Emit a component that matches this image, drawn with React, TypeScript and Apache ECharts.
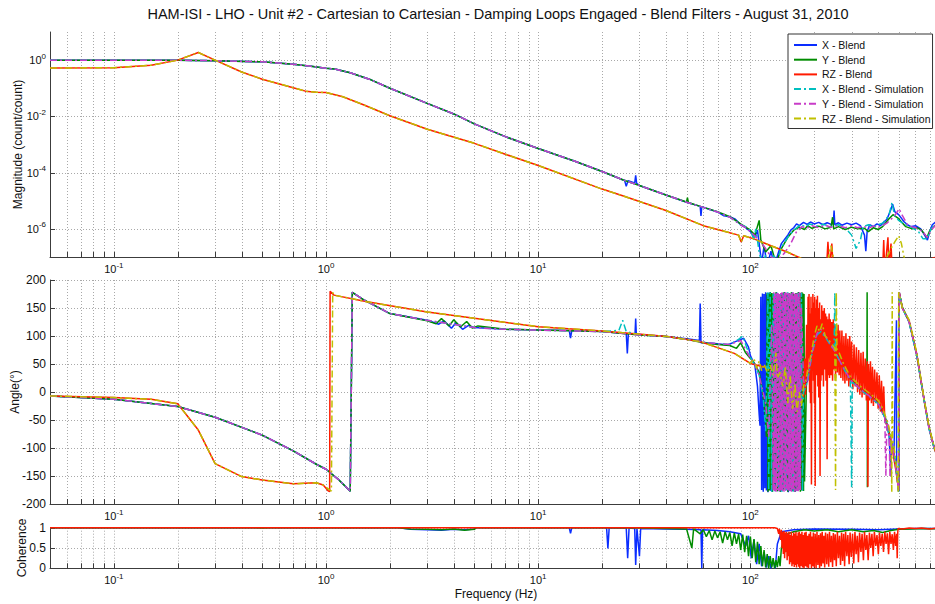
import React, { useEffect, useRef } from "react";
import * as echarts from "echarts";

const FONT = "'Liberation Sans', Arial, Helvetica, sans-serif";
const TITLE =
  "HAM-ISI - LHO - Unit #2 - Cartesian to Cartesian - Damping Loops Engaged - Blend Filters - August 31, 2010";
const FMIN = 0.05;
const FMAX = 800;

const seriesNames = [
  "X - Blend",
  "Y - Blend",
  "RZ - Blend",
  "X - Blend - Simulation",
  "Y - Blend - Simulation",
  "RZ - Blend - Simulation",
];
const seriesColors = ["#0a2dff", "#008c00", "#ff1a00", "#00bfbf", "#c83cc8", "#c0c000"];

// grid / tick positions
const xGridFreqs = [
  0.06, 0.07, 0.08, 0.09, 0.1, 0.2, 0.3, 0.4, 0.5, 0.6, 0.7, 0.8, 0.9, 1, 2, 3, 4, 5, 6, 7, 8, 9, 10, 20, 30,
  40, 50, 60, 70, 80, 90, 100, 200, 300, 400, 500, 600, 700,
];
const magGridValues = [1, 1e-2, 1e-4, 1e-6];
const phaseGridValues = [-150, -100, -50, 0, 50, 100, 150, 200];
const cohGridValues = [0.5, 1];

// ---------------- Magnitude ----------------
const xyMagBase = [
  [0.05, 1.0], [0.1, 1.0], [0.2, 0.99], [0.3, 0.955], [0.5, 0.87], [0.7, 0.72], [0.85, 0.6], [1.0, 0.51],
  [1.1, 0.48], [1.3, 0.355], [1.6, 0.21], [2, 0.1], [3, 0.029], [4, 0.0122], [5, 0.0054], [7, 0.0019],
  [10, 7.2e-4], [15, 2.5e-4], [20, 1.1e-4], [25, 5.6e-5], [30, 3.5e-5], [40, 1.6e-5], [50, 8.9e-6],
  [60, 5.8e-6], [70, 4.0e-6], [80, 2.6e-6], [90, 1.4e-6],
];
const xMagTail = [
  [25.5, 5.4e-5], [26, 3.3e-5], [26.5, 5.2e-5], [28.5, 4.3e-5], [28.8, 8e-5], [29.1, 4.2e-5], [30, 3.5e-5],
  [40, 1.6e-5], [50, 8.9e-6], [58, 6.3e-6], [58.5, 2.9e-6], [59, 6.1e-6], [70, 4.0e-6], [75, 2.9e-6], [80, 2.7e-6],
  [85, 2.2e-6], [90, 1.4e-6], [95, 1.1e-6], [100, 8e-7], [105, 5e-7], [108, 9e-7], [110, 3e-7], [113, 6e-8],
  [116, 2.5e-7], [120, 5e-8], [125, 1.6e-7], [130, 5e-8], [135, 1.3e-7], [140, 3e-7], [150, 6e-7], [155, 9e-7],
  [160, 1.1e-6], [165, 1.5e-6], [170, 1.3e-6], [178, 1.7e-6], [185, 1.45e-6], [192, 1.75e-6], [200, 1.5e-6],
  [210, 1.7e-6], [220, 1.4e-6], [230, 1.65e-6], [240, 1.45e-6], [246, 1.6e-6], [248, 4.5e-6], [250, 1.4e-6],
  [260, 1.65e-6], [270, 1.35e-6], [285, 1.6e-6], [300, 1.4e-6], [315, 1.6e-6], [330, 1.3e-6], [345, 6e-7],
  [350, 1.6e-7], [355, 8e-7], [365, 1.4e-6], [380, 1.2e-6], [395, 1.5e-6], [410, 1.3e-6], [425, 1.7e-6],
  [440, 2.2e-6], [460, 5e-6], [468, 7.6e-6], [480, 4e-6], [500, 3.2e-6], [530, 1.8e-6], [550, 1.4e-6],
  [570, 1.2e-6], [600, 1.3e-6], [635, 1.0e-6], [660, 6.3e-7], [683, 4e-7], [700, 8e-7], [720, 1.4e-6],
  [750, 1.8e-6], [780, 1.5e-6], [800, 2e-6],
];
const yMagTail = [
  [30, 3.5e-5], [40, 1.6e-5], [50, 9e-6], [50.5, 1.3e-5], [51, 8.7e-6], [60, 5.8e-6], [70, 4.1e-6], [80, 2.7e-6],
  [90, 1.5e-6], [100, 9e-7], [105, 6e-7], [110, 2e-6], [112, 4e-7], [118, 1.5e-7], [125, 2.5e-7], [132, 6e-8],
  [140, 2e-7], [150, 5e-7], [160, 9e-7], [170, 1.15e-6], [180, 9.5e-7], [186, 1.3e-6], [195, 1.05e-6],
  [210, 1.25e-6], [225, 1.0e-6], [240, 1.15e-6], [244, 2.6e-6], [247, 1.0e-6], [260, 1.2e-6], [280, 0.95e-6],
  [300, 1.15e-6], [320, 1.0e-6], [345, 1.05e-6], [360, 8e-7], [380, 1.1e-6], [400, 0.95e-6], [420, 1.2e-6],
  [450, 2.3e-6], [470, 3.2e-6], [500, 2.3e-6], [540, 1.2e-6], [580, 1.0e-6], [610, 1.1e-6], [640, 9e-7],
  [680, 5e-7], [700, 8.5e-7], [740, 1.3e-6], [770, 1.6e-6], [800, 1.4e-6],
];
const xSimMagTail = [
  [95, 1.2e-6], [100, 9e-7], [104, 4e-7], [106, 1.0e-6], [110, 1.5e-7], [114, 5e-8], [118, 1.2e-7], [122, 4e-8],
  [128, 1.1e-7], [135, 8e-8], [140, 2.2e-7], [150, 5e-7], [160, 9e-7], [172, 1.4e-6], [182, 1.2e-6],
  [190, 1.5e-6], [205, 1.25e-6], [220, 1.45e-6], [240, 1.2e-6], [260, 1.4e-6], [280, 1.1e-6], [300, 6e-7],
  [315, 2e-7], [330, 4e-7], [340, 1.2e-6], [360, 1.4e-6], [380, 1.15e-6], [400, 1.4e-6], [420, 1.6e-6],
  [450, 3e-6], [465, 8.7e-6], [478, 3e-6], [500, 2e-6], [530, 1.5e-6], [570, 1.2e-6], [620, 8e-7],
  [650, 4.5e-7], [680, 4.5e-7], [710, 1.0e-6], [750, 1.6e-6], [800, 1.8e-6],
];
const ySimMagTail = [
  [95, 1.1e-6], [100, 8e-7], [110, 4e-7], [118, 2.0e-7], [125, 1.0e-7], [135, 8e-8], [145, 1.4e-7],
  [155, 3e-7], [165, 8e-7], [175, 1.2e-6], [185, 1.05e-6], [195, 1.3e-6], [210, 1.1e-6], [225, 1.35e-6],
  [240, 1.15e-6], [260, 1.3e-6], [280, 1.1e-6], [300, 1.3e-6], [320, 1.1e-6], [340, 1.25e-6], [360, 1.05e-6],
  [380, 1.25e-6], [400, 1.15e-6], [420, 1.3e-6], [440, 1.6e-6], [480, 3e-6], [502, 5.2e-6], [520, 3e-6],
  [550, 1.4e-6], [575, 1.2e-6], [600, 1.1e-6], [650, 8e-7], [680, 5e-7], [710, 9e-7], [750, 1.4e-6],
  [800, 1.6e-6],
];
const rzMagBase = [
  [0.05, 0.52], [0.1, 0.54], [0.15, 0.66], [0.2, 1.0], [0.25, 1.86], [0.3, 1.0], [0.4, 0.38], [0.5, 0.21],
  [0.7, 0.105], [0.8, 0.079], [0.9, 0.072], [1.0, 0.071], [1.2, 0.05], [1.5, 0.026], [2, 0.0105], [3, 3.5e-3],
  [5, 1.1e-3], [7, 4.5e-4], [10, 1.8e-4], [20, 2.6e-5], [25, 1.5e-5], [40, 4.5e-6], [60, 1.3e-6], [73, 8.7e-7],
  [88, 6.0e-7], [90.5, 3.4e-7], [93, 5.7e-7], [104, 4.4e-7], [125, 2.5e-7], [149, 1.5e-7],
];
const rzMagTail = [
  [173, 9e-8], [200, 3e-8], [228, 3e-8], [232, 3.5e-7], [236, 4e-8], [242, 3e-7], [246, 3e-8], [420, 3e-8],
  [425, 4e-7], [430, 3e-8], [445, 5e-7], [450, 4e-8], [460, 3e-7], [466, 3e-8], [700, 4e-8], [720, 9e-8],
  [760, 1.0e-7], [800, 1.1e-7],
];
const rzSimMagTail = [
  [160, 1.2e-7], [173, 9e-8], [190, 5e-8], [200, 3e-8], [230, 3e-8], [235, 1.5e-7], [240, 2.5e-7],
  [245, 1.2e-7], [250, 3e-8], [420, 3e-8], [440, 1.0e-7], [460, 2e-7], [480, 3.5e-7], [500, 5.7e-7],
  [515, 3e-7], [530, 1e-7], [545, 3e-8], [800, 3e-8],
];

// ---------------- Phase ----------------
const xyPhaseBase = [
  [0.05, -7], [0.1, -13], [0.2, -26], [0.3, -45], [0.5, -77], [0.7, -105], [0.9, -129], [1.0, -138],
  [1.15, -157], [1.3, -177], [1.33, 178], [1.5, 165], [2, 140],
];
const xPhaseTail = [
  [3, 128], [3.4, 121], [3.6, 127], [3.9, 114], [4.1, 124], [4.4, 112], [4.7, 119], [5, 115], [7, 112],
  [10, 110.5], [14, 110], [14.2, 96], [14.4, 110], [20, 108], [26, 104], [26.3, 69], [26.6, 104], [28.6, 104],
  [28.8, 131], [29, 103], [40, 99], [50, 95], [57.5, 92], [58, 158], [58.5, 88], [70, 86], [78, 84], [85, 90],
  [93, 96], [98, 80], [100, 65], [105, 48], [108, 10], [110, -40], [111, -60],
  [112, 170], [113, -175], [114, 176], [115, -178], [116, 175], [117, -172], [118, 178], [119, -176],
  [120, 174], [121, -179], [122, 177], [123, -174], [124, 178], [125, -177], [126, 173], [127, -178],
  [129, 176], [131, -175], [133, 178], [135, -177], [137, 175], [139, -178], [141, 177], [143, -174],
  [145, 178], [147, -176], [149, 175], [151, -179], [153, 176], [155, -175], [157, 178], [159, -177],
  [161, 174], [163, -178], [165, 177], [167, -176], [169, 178], [171, -174], [173, 176],
  [175, -20], [180, 10], [186, 20], [195, 70], [206, 105], [215, 110], [230, 95], [248, 75], [270, 50],
  [296, 22], [330, 5], [358, -5], [400, -20], [430, -45], [450, -75], [460, -150], [462, -90], [475, -110],
  [488, 128], [489, -140], [500, -178], [503, 178], [520, 150], [560, 125], [609, 65], [656, -10],
  [695, -65], [735, -100], [800, -135],
];
const yPhaseTail = [
  [2.5, 133], [3, 127], [3.3, 122], [3.5, 131], [3.8, 118], [4.0, 129], [4.3, 116], [4.6, 126], [4.9, 114],
  [5.2, 118], [7, 112], [10, 110.5], [20, 108], [30, 102], [40, 99], [50, 94], [60, 88], [70, 85], [80, 83],
  [86, 78], [90, 88], [95, 70], [100, 60], [105, 50], [110, 35], [113, 10], [116, -20], [118, -50], [119, -80],
  [120, 177], [121, -178], [122, 175], [123, -176], [124, 178], [125, -174], [126, 177], [127, -178],
  [128, 176], [130, -175], [132, 178], [134, -177], [136, 175], [138, -178], [140, 177], [142, -176],
  [144, 178], [146, -175], [148, 176], [150, -178], [152, 177], [154, -174], [156, 178], [158, -177],
  [160, 175], [162, -178], [164, 177], [166, -176], [168, 178], [170, -175], [171, 176], [172, -178],
  [173, 177], [174, -176], [175, 178], [176, -175], [177, 176], [178, -177], [179, 175], [180, -160],
  [184, 30], [190, 40], [200, 85], [210, 110], [225, 100], [250, 78], [275, 48], [300, 22], [330, 6],
  [354, 0], [355, 178], [356, -170], [357, -2], [400, -18], [430, -42], [450, -70], [475, -108], [490, -148],
  [500, -177], [503, 177], [520, 152], [560, 126], [609, 66], [656, -9], [695, -63], [735, -99], [800, -136],
];
const xSimPhaseTail = [
  [3, 128], [5, 115], [7, 112], [10, 110.5], [20, 108], [24, 110], [25, 128], [26, 108], [30, 102], [40, 99],
  [50, 94], [60, 89], [70, 86], [80, 85], [88, 94], [92, 100], [96, 80], [100, 62], [105, 48], [110, 30],
  [115, -10], [118, -70], [121, 178], [122, -176], [124, 177], [126, -178], [128, 175], [130, -177],
  [132, 178], [135, -175], [138, 177], [141, -178], [144, 176], [147, -176], [150, 178], [153, -177],
  [156, 175], [159, -178], [162, 177], [165, -176], [168, 178], [171, -175], [174, 177], [176, -178],
  [178, 0], [186, 18], [195, 68], [206, 102], [215, 108], [230, 93], [248, 74], [250, 178], [252, 70],
  [270, 48], [296, 20], [300, -170], [302, 18], [330, 4], [358, -6], [400, -21], [430, -46], [450, -76],
  [475, -110], [490, -150], [500, -178], [503, 178], [520, 150], [560, 124], [609, 64], [656, -11],
  [695, -66], [735, -101], [800, -136],
];
const ySimPhaseTail = [
  [3, 128], [5, 115], [7, 112], [10, 110.5], [20, 108], [30, 102], [40, 99], [50, 94], [60, 89], [70, 86],
  [80, 85], [90, 92], [95, 76], [100, 60], [105, 50], [110, 30], [118, -20], [122, -80], [126, 120],
  [128, -176], [129, 178], [130, -177], [131, 176], [132, -178], [133, 177], [134, -175], [135, 178],
  [136, -177], [137, 175], [138, -178], [139, 177], [140, -176], [141, 178], [142, -177], [143, 175],
  [144, -178], [145, 177], [146, -176], [147, 178], [148, -175], [149, 176], [150, -178], [151, 177],
  [152, -176], [153, 178], [154, -177], [155, 175], [156, -178], [157, 177], [158, -176], [159, 178],
  [160, -175], [161, 176], [162, -178], [163, 177], [164, -176], [165, 178], [166, -177], [167, 175],
  [168, -178], [169, 177], [170, -176], [171, 178], [172, -175],
  [174, 150], [178, 20], [182, 10], [186, 25], [195, 70], [206, 105], [215, 112], [230, 95], [248, 75],
  [270, 48], [296, 22], [330, 5], [358, -5], [400, -20], [430, -45], [435, -150], [440, -50], [450, -65],
  [455, -151], [460, -80], [475, -110], [490, -150], [500, -178], [503, 178], [520, 150], [560, 125],
  [609, 65], [656, -10], [695, -65], [735, -100], [800, -135],
];
const rzPhaseBase = [
  [0.05, -7], [0.1, -10], [0.15, -13], [0.2, -21], [0.25, -68], [0.3, -128], [0.4, -151], [0.5, -157],
  [0.7, -164], [0.9, -162], [0.97, -166],
];
const rzPhaseTail = [
  [1.02, -176], [1.04, -178], [1.045, 180], [1.09, 173], [1.56, 161], [3, 143], [5, 131.6], [10, 116.7],
  [20, 109], [40.6, 99], [58, 90], [84, 69], [100, 51], [115, 45], [134, 39], [150, 21], [172, 4],
  [176, 30], [178, -10], [180, 60], [182, -5], [184, 120], [186, 30], [187, 170], [188, 60], [189, 175],
  [190, 0], [191, 140], [192, -20], [193, 170], [194, -165], [195, 150], [196, 40], [197, 175], [198, 20],
  [199, 160], [200, -20], [201, 170], [202, -168], [203, 150], [204, 40], [205, 165], [206, 30], [207, 172],
  [208, 10], [209, 150], [210, -10], [212, 160], [213, -150], [214, 130], [215, 20], [217, 155], [218, 30],
  [220, 145], [221, 10], [223, 150], [224, 40], [226, 140], [227, 20], [229, 135], [230, -120], [231, 130],
  [233, 30], [235, 140], [236, 25], [238, 130], [240, 30], [242, 125], [244, 20], [246, 130], [248, 40],
  [250, 120], [252, 25], [254, 115], [257, 35], [259, 120], [262, 30], [264, 110], [267, 25], [270, 110],
  [273, 20], [276, 100], [279, 15], [282, 105], [285, 20], [288, 95], [291, 10], [294, 100], [297, 15],
  [300, 90], [304, 5], [308, 85], [312, 10], [316, 80], [320, 0], [324, 75], [328, -5], [332, 70], [336, -10],
  [340, 72], [344, -5], [348, 60], [352, -15], [356, 55], [358, -169], [360, 50], [364, -15], [368, 55],
  [372, -20], [376, 45], [380, -25], [385, 40], [390, -20], [395, 35], [400, -30], [405, 30], [410, -35],
  [415, 20], [420, -40], [425, 10], [430, -50], [440, -60], [455, -80], [470, -110], [485, -140], [500, -175],
  [503, 178], [520, 150], [560, 127], [609, 67], [656, -10], [695, -64], [735, -100], [800, -138],
];
const rzSimPhaseTail = [
  [1.0, -170], [1.06, -177], [1.075, 178], [1.09, 173], [1.56, 161], [3, 143], [5, 131.6], [10, 116.7],
  [20, 109], [40.6, 99], [58, 90], [84, 69], [100, 51], [104, 60], [107, 42], [110, 55], [113, 38], [116, 50],
  [120, 35], [124, 48], [128, 30], [132, 70], [134, 25], [138, 35], [142, 10], [146, 45], [150, -20],
  [154, 30], [158, -30], [162, 15], [166, -35], [170, 0], [174, -25], [178, 10], [182, 20], [188, 45],
  [195, 75], [200, 100], [206, 118], [212, 108], [218, 122], [225, 100], [235, 92], [242, 85], [250, 78],
  [252, -175], [254, 178], [256, 75], [262, 70], [275, 50], [296, 27], [315, 18], [330, 10], [358, 0],
  [380, -8], [400, -15], [415, -25], [430, -40], [445, -55], [460, -80], [464, -178], [466, 178], [468, -85],
  [480, -110], [490, -140], [497, -178], [500, 178], [503, 175], [520, 150], [560, 129], [609, 69],
  [656, -8], [695, -62], [735, -98], [800, -140],
];

// ---------------- Coherence ----------------
const xCoh = [
  [0.05, 1], [2.2, 1], [2.5, 0.96], [3, 0.95], [3.5, 0.94], [4, 0.96], [4.5, 0.95], [5, 0.97], [5.1, 1],
  [14, 1], [14.2, 0.86], [14.4, 1], [21, 1], [21.3, 0.49], [21.6, 1], [26, 0.99], [26.4, 0.25], [26.8, 0.99],
  [28.5, 0.98], [28.8, 0.08], [29.2, 0.98], [30, 0.3], [30.4, 0.98], [40, 0.97], [50, 0.96], [58.5, 0.95],
  [59, 0.0], [59.5, 0.95], [70, 0.93], [80, 0.9], [90, 0.85], [95, 0.55], [98, 0.8], [101, 0.25], [104, 0.7],
  [107, 0.1], [110, 0.6], [113, 0.05], [116, 0.4], [119, 0.02], [122, 0.3], [125, 0.0], [128, 0.2], [131, 0.0],
  [134, 0.6], [140, 0.9], [160, 0.95], [200, 0.97], [300, 0.96], [400, 0.95], [500, 0.97], [600, 0.98],
  [800, 0.98],
];
const yCoh = [
  [0.05, 1], [0.45, 1], [0.5, 0.99], [0.55, 1], [2.2, 1], [2.5, 0.97], [3, 0.96], [3.5, 0.95], [4, 0.97],
  [4.5, 0.94], [5, 0.96], [5.1, 1], [20, 1], [30, 0.99], [40, 0.98], [50, 0.97], [53, 0.5], [54, 0.97],
  [58, 0.85], [60, 0.95], [62, 0.78], [64, 0.93], [66, 0.7], [68, 0.92], [70, 0.75], [72, 0.9], [74, 0.62],
  [76, 0.9], [78, 0.7], [80, 0.88], [82, 0.55], [84, 0.87], [86, 0.6], [88, 0.85], [90, 0.45], [92, 0.83],
  [94, 0.4], [96, 0.8], [98, 0.3], [100, 0.78], [102, 0.25], [104, 0.72], [106, 0.15], [108, 0.65],
  [110, 0.1], [112, 0.55], [114, 0.05], [116, 0.45], [118, 0.02], [120, 0.35], [122, 0.0], [124, 0.3],
  [126, 0.02], [128, 0.25], [130, 0.0], [132, 0.2], [134, 0.03], [136, 0.3], [138, 0.05], [140, 0.5],
  [143, 0.7], [146, 0.4], [150, 0.85], [160, 0.9], [180, 0.95], [200, 0.92], [230, 0.95], [260, 0.9],
  [300, 0.95], [340, 0.9], [380, 0.93], [420, 0.88], [460, 0.93], [500, 0.96], [560, 0.97], [650, 0.98],
  [800, 0.97],
];
const rzCoh = [
  [0.05, 1], [130, 1], [134, 0.98], [136, 0.85], [137, 0.97], [139, 0.7], [140, 0.95], [141, 0.5], [142, 0.9],
  [143, 0.35], [144, 0.92], [145, 0.25], [146, 0.88], [147, 0.4], [148, 0.9], [149, 0.2], [150, 0.85],
  [151, 0.3], [152, 0.9], [153, 0.1], [154, 0.82], [155, 0.15], [156, 0.9], [157, 0.05], [158, 0.8],
  [159, 0.1], [160, 0.88], [161, 0.03], [162, 0.85], [163, 0.08], [164, 0.9], [165, 0.02], [166, 0.8],
  [167, 0.1], [168, 0.88], [169, 0.04], [170, 0.9], [171, 0.0], [172, 0.85], [173, 0.06], [175, 0.9],
  [176, 0.02], [177, 0.82], [179, 0.0], [180, 0.88], [182, 0.05], [183, 0.9], [185, 0.02], [186, 0.8],
  [188, 0.0], [189, 0.85], [191, 0.1], [192, 0.9], [194, 0.0], [195, 0.78], [197, 0.05], [198, 0.88],
  [200, 0.02], [202, 0.85], [204, 0.0], [206, 0.9], [208, 0.08], [210, 0.82], [212, 0.0], [214, 0.86],
  [216, 0.05], [218, 0.9], [220, 0.12], [222, 0.8], [224, 0.02], [226, 0.88], [229, 0.1], [231, 0.85],
  [234, 0.04], [236, 0.9], [239, 0.15], [241, 0.8], [244, 0.03], [246, 0.87], [249, 0.2], [251, 0.84],
  [254, 0.05], [257, 0.9], [260, 0.25], [263, 0.8], [266, 0.08], [269, 0.88], [272, 0.18], [275, 0.85],
  [278, 0.05], [281, 0.9], [285, 0.3], [288, 0.82], [292, 0.1], [295, 0.88], [299, 0.28], [303, 0.85],
  [307, 0.12], [311, 0.9], [315, 0.35], [319, 0.8], [323, 0.15], [327, 0.88], [332, 0.4], [336, 0.85],
  [341, 0.2], [345, 0.9], [350, 0.45], [354, 0.82], [359, 0.2], [364, 0.88], [369, 0.5], [374, 0.85],
  [379, 0.3], [384, 0.9], [390, 0.55], [395, 0.82], [401, 0.35], [406, 0.88], [412, 0.55], [418, 0.85],
  [424, 0.4], [430, 0.9], [436, 0.6], [442, 0.86], [448, 0.35], [454, 0.9], [460, 0.6], [466, 0.84],
  [472, 0.45], [478, 0.9], [484, 0.55], [489, 0.85], [492, 0.25], [495, 0.9], [497, 0.98], [520, 0.97],
  [560, 0.99], [600, 0.98], [640, 0.99], [700, 0.97], [760, 0.99], [800, 0.98],
];

const joinTail = (base: number[][], tail: number[][]) => {
  const start = tail[0][0];
  return base.filter((p) => p[0] < start).concat(tail);
};

const SIM_DASH = [7, 3, 2, 3];

function lineSeries(idx: number, data: number[][], gi: number) {
  const sim = idx >= 3;
  return {
    type: "line",
    name: seriesNames[idx],
    xAxisIndex: gi,
    yAxisIndex: gi,
    data,
    symbol: "none",
    showSymbol: false,
    silent: true,
    z: 3,
    lineStyle: { color: seriesColors[idx], width: 1.5, type: sim ? SIM_DASH : "solid" },
    itemStyle: { color: seriesColors[idx] },
  };
}

function gridRender(params: any, api: any) {
  const cs = params.coordSys;
  const kind = api.value(2);
  const pt = api.coord([api.value(0), api.value(1)]);
  if (kind === 0) {
    const x = Math.round(pt[0]) + 0.5;
    const yb = cs.y + cs.height;
    return {
      type: "group",
      children: [
        { type: "line", shape: { x1: x, y1: cs.y, x2: x, y2: yb }, style: { stroke: "#a9a9a9", lineWidth: 1, lineDash: [1, 2] } },
        { type: "line", shape: { x1: x, y1: yb, x2: x, y2: yb - 5 }, style: { stroke: "#3c3c3c", lineWidth: 1 } },
      ],
    };
  }
  const y = Math.round(pt[1]) + 0.5;
  return {
    type: "group",
    children: [
      { type: "line", shape: { x1: cs.x, y1: y, x2: cs.x + cs.width, y2: y }, style: { stroke: "#a9a9a9", lineWidth: 1, lineDash: [1, 2] } },
      { type: "line", shape: { x1: cs.x, y1: y, x2: cs.x + 5, y2: y }, style: { stroke: "#3c3c3c", lineWidth: 1 } },
    ],
  };
}

function gridSeries(gi: number, yRef: number, yVals: number[]) {
  const data: number[][] = [];
  xGridFreqs.forEach((f) => data.push([f, yRef, 0]));
  yVals.forEach((v) => data.push([1, v, 1]));
  return {
    type: "custom",
    name: "_grid" + gi,
    xAxisIndex: gi,
    yAxisIndex: gi,
    data,
    silent: true,
    z: 1,
    renderItem: gridRender,
  };
}

const supRich = {
  b: { fontSize: 11, lineHeight: 16, color: "#111", fontFamily: FONT },
  s: { fontSize: 8, lineHeight: 8, verticalAlign: "top", color: "#111", fontFamily: FONT },
};
const powFormatter = (v: number) => {
  const l = Math.log10(v);
  const e = Math.round(l);
  if (Math.abs(l - e) > 1e-6) return "";
  return `{b|10}{s|${e}}`;
};
const evenPowFormatter = (v: number) => {
  const l = Math.log10(v);
  const e = Math.round(l);
  if (Math.abs(l - e) > 1e-6 || Math.abs(e) % 2 === 1) return "";
  return `{b|10}{s|${e}}`;
};

function xAxis(gi: number, withName: boolean) {
  return {
    type: "log",
    logBase: 10,
    gridIndex: gi,
    min: FMIN,
    max: FMAX,
    axisLine: { show: true, onZero: false, lineStyle: { color: "#3c3c3c", width: 1 } },
    axisTick: { show: false },
    splitLine: { show: false },
    axisLabel: { formatter: powFormatter, rich: supRich, margin: 4, showMinLabel: false, showMaxLabel: false },
    name: withName ? "Frequency (Hz)" : "",
    nameLocation: "middle",
    nameGap: 20,
    nameMoveOverlap: false,
    nameTextStyle: { fontSize: 12, color: "#111", fontFamily: FONT },
  };
}

const yName = (text: string, gap: number) => ({
  name: text,
  nameLocation: "middle",
  nameGap: gap,
  nameRotate: 90,
  nameMoveOverlap: false,
  nameTextStyle: { fontSize: 12, color: "#111", fontFamily: FONT },
});

const yCommon = {
  axisLine: { show: true, onZero: false, lineStyle: { color: "#3c3c3c", width: 1 } },
  axisTick: { show: false },
  splitLine: { show: false },
};

const option = {
  animation: false,
  backgroundColor: "#ffffff",
  textStyle: { fontFamily: FONT },
  graphic: [
    {
      type: "text",
      x: 498,
      y: 14,
      style: {
        text: TITLE,
        fontSize: 14.5,
        fontFamily: FONT,
        fill: "#111",
        align: "center",
        verticalAlign: "middle",
        textAlign: "center",
        textVerticalAlign: "middle",
      },
    },
  ],
  legend: {
    data: seriesNames,
    orient: "vertical",
    left: 788,
    top: 34,
    itemWidth: 23,
    itemHeight: 10,
    itemGap: 2.7,
    padding: [5, 2, 4, 5],
    borderColor: "#333",
    borderWidth: 1,
    backgroundColor: "#ffffff",
    itemStyle: { opacity: 0 },
    textStyle: { fontSize: 10.5, lineHeight: 12, color: "#111", fontFamily: FONT },
    selectedMode: false,
  },
  grid: [
    { left: 50, top: 32, width: 892, height: 225 },
    { left: 50, top: 280, width: 892, height: 224 },
    { left: 50, top: 527.7, width: 892, height: 40.6 },
  ],
  xAxis: [xAxis(0, false), xAxis(1, false), xAxis(2, true)],
  yAxis: [
    {
      type: "log",
      logBase: 10,
      gridIndex: 0,
      min: 1e-7,
      max: 10,
      ...yCommon,
      axisLabel: { formatter: evenPowFormatter, rich: supRich, margin: 4 },
      ...yName("Magnitude (count/count)", 26),
    },
    {
      type: "value",
      gridIndex: 1,
      min: -200,
      max: 200,
      interval: 50,
      ...yCommon,
      axisLabel: { fontSize: 12, color: "#111", margin: 4, fontFamily: FONT },
      ...yName("Angle(°)", 29),
    },
    {
      type: "value",
      gridIndex: 2,
      min: 0,
      max: 1,
      interval: 0.5,
      ...yCommon,
      axisLabel: { fontSize: 12, color: "#111", margin: 4, fontFamily: FONT },
      ...yName("Coherence", 22),
    },
  ],
  series: [
    gridSeries(0, 1, magGridValues),
    gridSeries(1, 0, phaseGridValues),
    gridSeries(2, 0.5, cohGridValues),
    lineSeries(0, joinTail(xyMagBase, xMagTail), 0),
    lineSeries(1, joinTail(xyMagBase, yMagTail), 0),
    lineSeries(2, rzMagBase.concat(rzMagTail), 0),
    lineSeries(3, joinTail(xyMagBase, xSimMagTail), 0),
    lineSeries(4, joinTail(xyMagBase, ySimMagTail), 0),
    lineSeries(5, rzMagBase.concat(rzSimMagTail), 0),
    lineSeries(0, xyPhaseBase.concat(xPhaseTail), 1),
    lineSeries(1, joinTail(xyPhaseBase, yPhaseTail), 1),
    lineSeries(2, rzPhaseBase.concat(rzPhaseTail), 1),
    lineSeries(3, xyPhaseBase.concat(xSimPhaseTail), 1),
    lineSeries(4, xyPhaseBase.concat(ySimPhaseTail), 1),
    lineSeries(5, joinTail(rzPhaseBase, rzSimPhaseTail), 1),
    lineSeries(0, xCoh, 2),
    lineSeries(1, yCoh, 2),
    lineSeries(2, rzCoh, 2),
  ],
};

export default function App() {
  const ref = useRef<HTMLDivElement>(null);
  useEffect(() => {
    if (!ref.current) return;
    const chart = echarts.init(ref.current, null, { renderer: "svg" });
    chart.setOption(option as any);
    return () => chart.dispose();
  }, []);
  return (
    <div style={{ position: "fixed", left: 0, top: 0, width: 935, height: 604, overflow: "hidden", background: "#fff" }}>
      <div ref={ref} style={{ width: 950, height: 604 }} />
    </div>
  );
}
